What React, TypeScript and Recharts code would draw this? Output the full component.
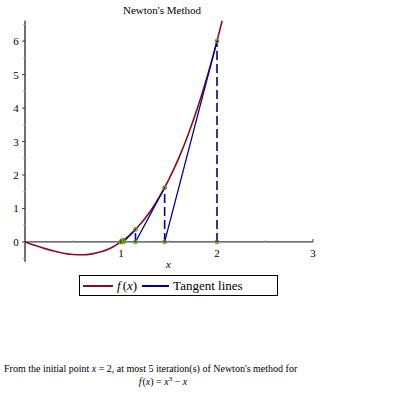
import React from 'react';
import { ComposedChart, Line, Scatter, XAxis, YAxis, ReferenceLine } from 'recharts';

// f(x) = x^3 - x, sampled
const curveX = [0, 0.1, 0.2, 0.3, 0.4, 0.5, 0.6, 0.7, 0.8, 0.9, 1.0, 1.1, 1.2, 1.3, 1.4, 1.5, 1.6, 1.7, 1.8, 1.9, 2.0, 2.06];
const curveY = [0, -0.099, -0.192, -0.273, -0.336, -0.375, -0.384, -0.357, -0.288, -0.171, 0, 0.231, 0.528, 0.897, 1.344, 1.875, 2.496, 3.213, 4.032, 4.959, 6, 6.682];

// Newton iterates from x0 = 2
const iterX = [2, 1.4545, 1.151, 1.0253, 1.0009, 1.0];
const iterY = [6, 1.6228, 0.3739, 0.0526, 0.0018, 0.0];

const yTicks = [-0.5, 0, 0.5, 1, 1.5, 2, 2.5, 3, 3.5, 4, 4.5, 5, 5.5, 6, 6.5];
const xTicks = [0.5, 1, 1.5, 2, 2.5, 3];

const RED = '#8b0a1e';
const BLUE = '#000096';
const GREEN = '#6b9a1e';
const AXIS = '#404040';
const SERIF = '"Liberation Serif", "Times New Roman", serif';

const Y_MIN = -0.59;
const Y_MAX = 6.61;
const PLOT_TOP = 20.7;
const PLOT_H = 241;
const ZERO_Y = PLOT_TOP + (PLOT_H * Y_MAX) / (Y_MAX - Y_MIN);

const curveData = curveX.map((x, i) => ({ x, y: curveY[i] }));

// tangent segments: (x_n, f(x_n)) -> (x_{n+1}, 0), gaps between them
const tangentData: { x: number; y: number | null }[] = [];
for (let i = 0; i < iterX.length - 1; i++) {
  tangentData.push({ x: iterX[i], y: iterY[i] });
  tangentData.push({ x: iterX[i + 1], y: 0 });
  tangentData.push({ x: iterX[i + 1], y: null });
}

// dashed verticals (x_n, 0) -> (x_n, f(x_n))
const verticalData: { x: number; y: number | null }[] = [];
iterX.forEach((x, i) => {
  verticalData.push({ x, y: 0 });
  verticalData.push({ x, y: iterY[i] });
  verticalData.push({ x, y: null });
});

const pointData = [
  ...iterX.map((x, i) => ({ x, y: iterY[i] })),
  ...iterX.map((x) => ({ x, y: 0 })),
];

const YTick = (props: any) => {
  const { y, payload } = props;
  const major = Number.isInteger(payload.value);
  return (
    <g>
      <line x1={25} x2={major ? 22 : 23} y1={y} y2={y} stroke={major ? AXIS : '#aaa'} />
      {major && (
        <text x={16} y={y + 4} textAnchor="middle" fontSize={11} style={{ fontFamily: SERIF }} fill="#000">
          {payload.value}
        </text>
      )}
    </g>
  );
};

const XTick = (props: any) => {
  const { x, payload } = props;
  const major = Number.isInteger(payload.value);
  return (
    <g>
      <line x1={x} x2={x} y1={ZERO_Y} y2={ZERO_Y - (major ? 3 : 2)} stroke={major ? AXIS : '#aaa'} />
      {major && (
        <text x={x} y={ZERO_Y + 15} textAnchor="middle" fontSize={11} style={{ fontFamily: SERIF }} fill="#000">
          {payload.value}
        </text>
      )}
    </g>
  );
};

const Dot = (props: any) => (
  <circle cx={props.cx} cy={props.cy} r={1.8} fill="none" stroke={GREEN} strokeWidth={1.2} />
);

export default function App() {
  return (
    <div style={{ position: 'absolute', left: 0, top: 0, width: 395, height: 395, background: '#fff', fontFamily: SERIF }}>
      <div style={{ position: 'absolute', left: 0, width: 324, top: 4, textAlign: 'center', fontSize: 11 }}>
        Newton's Method
      </div>
      <ComposedChart
        width={395}
        height={290}
        margin={{ top: PLOT_TOP, right: 82, left: 0, bottom: 290 - PLOT_TOP - PLOT_H - 20 }}
      >
        <XAxis
          dataKey="x"
          type="number"
          domain={[0, 3]}
          ticks={xTicks}
          axisLine={false}
          tickLine={false}
          tick={<XTick />}
          height={20}
          allowDataOverflow
        />
        <YAxis
          type="number"
          domain={[Y_MIN, Y_MAX]}
          ticks={yTicks}
          width={25}
          axisLine={{ stroke: AXIS, strokeWidth: 1.5 }}
          tickLine={false}
          tick={<YTick />}
          allowDataOverflow
          interval={0}
        />
        <ReferenceLine y={0} stroke={AXIS} strokeWidth={1.2} ifOverflow="visible" />
        <Line
          data={curveData}
          dataKey="y"
          type="monotone"
          stroke={RED}
          strokeWidth={1.6}
          dot={false}
          isAnimationActive={false}
        />
        <Line
          data={verticalData}
          dataKey="y"
          type="linear"
          stroke={BLUE}
          strokeWidth={1.6}
          strokeDasharray="9 4"
          dot={false}
          connectNulls={false}
          isAnimationActive={false}
        />
        <Line
          data={tangentData}
          dataKey="y"
          type="linear"
          stroke={BLUE}
          strokeWidth={1.3}
          dot={false}
          connectNulls={false}
          isAnimationActive={false}
        />
        <Scatter data={pointData} dataKey="y" shape={<Dot />} isAnimationActive={false} />
      </ComposedChart>
      <div style={{ position: 'absolute', left: 166, top: 258, fontSize: 11, fontStyle: 'italic' }}>x</div>
      <div
        style={{
          position: 'absolute',
          left: 79,
          top: 275,
          width: 197,
          height: 19,
          border: '1px solid #000',
          display: 'flex',
          alignItems: 'center',
          fontSize: 13,
        }}
      >
        <span style={{ display: 'inline-block', width: 30, height: 0, borderTop: `2px solid ${RED}`, marginLeft: 3 }} />
        <span style={{ fontStyle: 'italic', marginLeft: 4 }}>f</span>
        <span style={{ marginLeft: 2 }}>(</span>
        <span style={{ fontStyle: 'italic' }}>x</span>
        <span>)</span>
        <span style={{ display: 'inline-block', width: 27, height: 0, borderTop: `2px solid ${BLUE}`, marginLeft: 5 }} />
        <span style={{ marginLeft: 4 }}>Tangent lines</span>
      </div>
      <div style={{ position: 'absolute', left: 4, top: 363, fontSize: 10, whiteSpace: 'nowrap' }}>
        From the initial point <i>x</i> = 2, at most 5 iteration(s) of Newton's method for
      </div>
      <div style={{ position: 'absolute', left: 0, width: 326, top: 375, fontSize: 10, textAlign: 'center' }}>
        <i>f</i>
        <span style={{ marginLeft: 1 }}>(</span>
        <i>x</i>) = <i>x</i>
        <sup style={{ fontSize: 7 }}>3</sup> − <i>x</i>
      </div>
    </div>
  );
}
